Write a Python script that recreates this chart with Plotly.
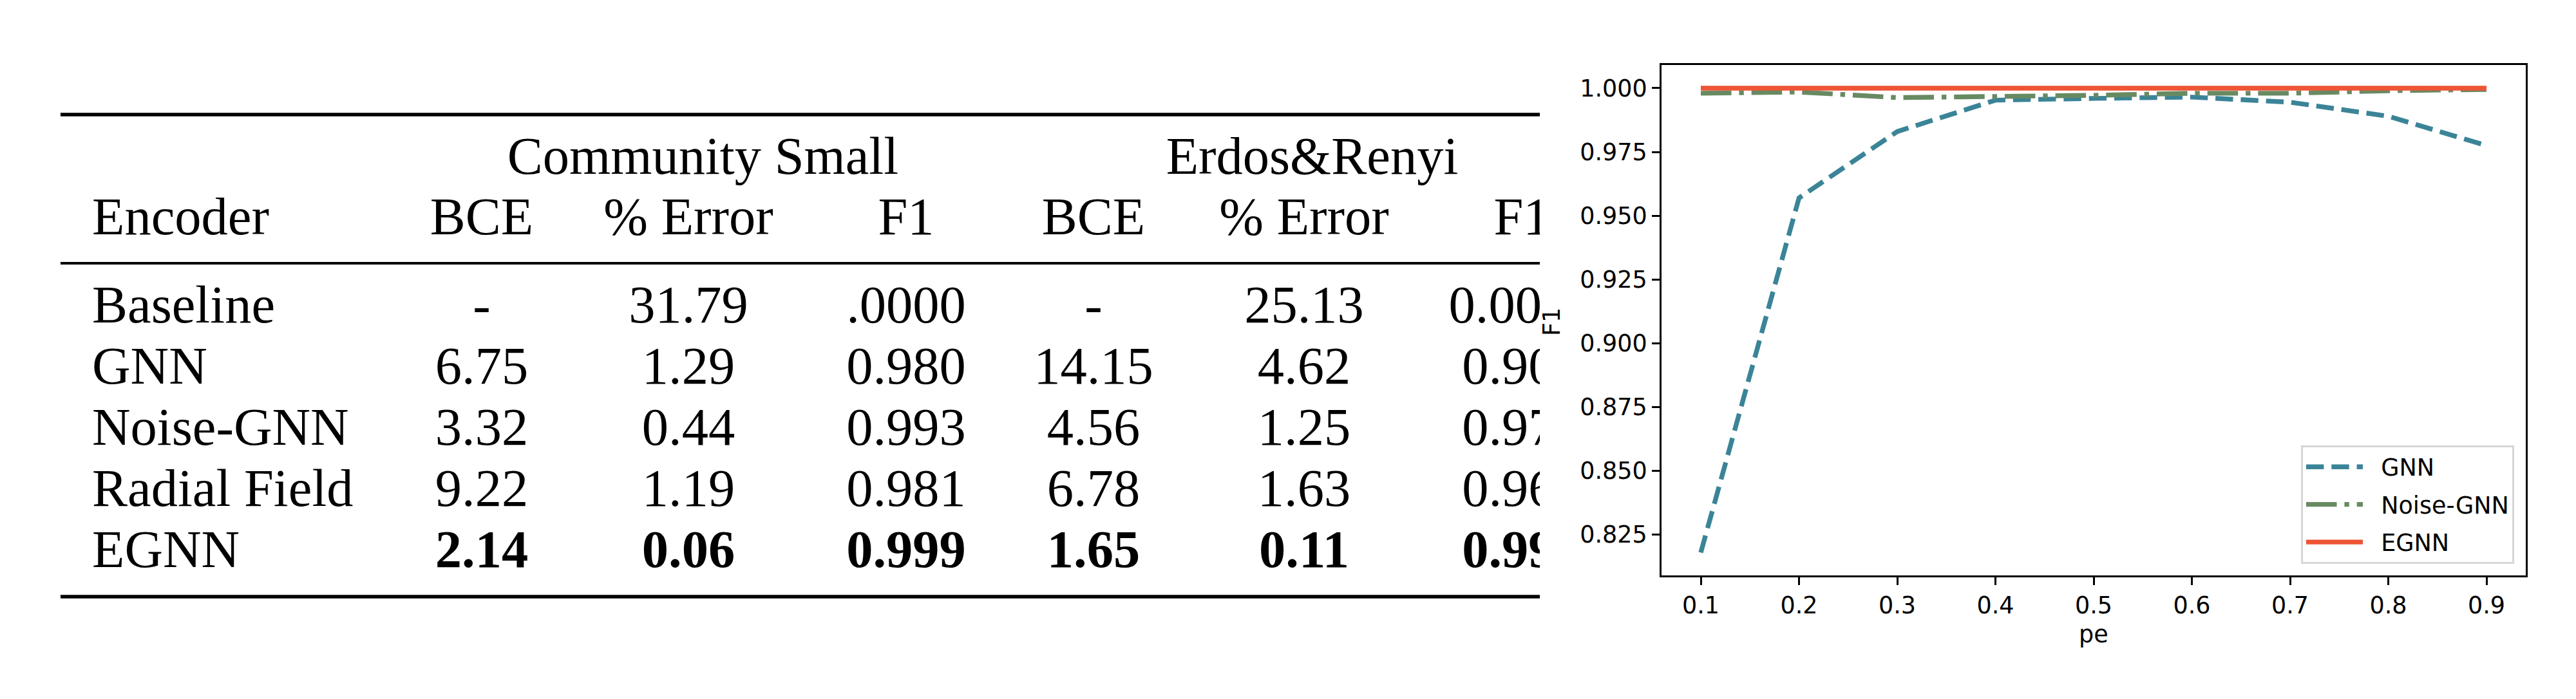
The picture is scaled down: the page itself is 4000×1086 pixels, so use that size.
import plotly.graph_objects as go

W, H = 4000, 1086

# ---------------- table data ----------------
encoders = ["Baseline", "GNN", "Noise-GNN", "Radial Field", "EGNN"]
group_titles = ["Community Small", "Erdos&Renyi"]
col_titles = ["BCE", "% Error", "F1", "BCE", "% Error", "F1"]
cs_bce = ["-", "6.75", "3.32", "9.22", "2.14"]
cs_err = ["31.79", "1.29", "0.44", "1.19", "0.06"]
cs_f1 = [".0000", "0.980", "0.993", "0.981", "0.999"]
er_bce = ["-", "14.15", "4.56", "6.78", "1.65"]
er_err = ["25.13", "4.62", "1.25", "1.63", "0.11"]
er_f1 = ["0.0000", "0.907", "0.975", "0.964", "0.998"]
bold_encoder = "EGNN"

# ---------------- chart data ----------------
pe = [0.1, 0.2, 0.3, 0.4, 0.5, 0.6, 0.7, 0.8, 0.9]
gnn_f1 = [0.818, 0.957, 0.983, 0.9953, 0.996, 0.9965, 0.9945, 0.989, 0.9775]
noise_f1 = [0.998, 0.9985, 0.9963, 0.9967, 0.9972, 0.998, 0.998, 0.999, 0.9995]
egnn_f1 = [1.0, 1.0, 1.0, 1.0, 1.0, 1.0, 1.0, 1.0, 1.0]
series_names = ["GNN", "Noise-GNN", "EGNN"]
x_ticks = [0.1, 0.2, 0.3, 0.4, 0.5, 0.6, 0.7, 0.8, 0.9]
y_ticks = [0.825, 0.850, 0.875, 0.900, 0.925, 0.950, 0.975, 1.000]

# ---------------- layout constants (pixels) ----------------
TFONT = "Liberation Serif"
TSIZE = 82.5
SHIFT = 0.25 * TSIZE          # baseline offset for 'middle' text
CLIP_X = 2383
RULE_X0 = 86
ENC_X = 135
COL_X = [740, 1061, 1399, 1690, 2017, 2355]
GROUP_X = [1083.5, 2029.5]
BASE_GROUP = 262
BASE_HEAD = 356
BASE_ROW0 = 493
ROW_STEP = 95
RULES = [(170, 5.5), (401, 4.2), (919, 5.5)]
LEG_PAD = "\u00a0\u00a0"

fig = go.Figure()

def table_text(xs, bases, texts, pos="middle center"):
    fig.add_trace(go.Scatter(
        x=xs, y=[b - SHIFT for b in bases], text=texts, mode="text",
        textposition=pos, cliponaxis=True, showlegend=False, hoverinfo="skip",
        textfont=dict(family=TFONT, size=TSIZE, color="black"),
        xaxis="x2", yaxis="y2"))

row_bases = [BASE_ROW0 + i * ROW_STEP for i in range(len(encoders))]

# headers
table_text(GROUP_X, [BASE_GROUP] * 2, group_titles)
table_text([ENC_X], [BASE_HEAD], ["Encoder"], pos="middle right")
table_text(COL_X, [BASE_HEAD] * len(COL_X), col_titles)

# body
table_text([ENC_X] * len(encoders), row_bases, encoders, pos="middle right")
for cx, col in zip(COL_X, [cs_bce, cs_err, cs_f1, er_bce, er_err, er_f1]):
    texts = [f"<b>{v}</b>" if enc == bold_encoder else v for enc, v in zip(encoders, col)]
    table_text([cx] * len(col), row_bases, texts)

shapes = []
for ry, lw in RULES:
    shapes.append(dict(type="line", xref="x2", yref="y2", x0=RULE_X0, x1=CLIP_X,
                       y0=ry, y1=ry, line=dict(color="black", width=lw)))

# ---------------- line chart ----------------
LW = 7.4
styles = [
    dict(color="#3b8497", width=LW, dash="27.4px,11.9px"),
    dict(color="#688a62", width=LW, dash="47.5px,11.9px,7.4px,11.9px"),
    dict(color="#ee5435", width=LW),
]
for i, (name, ys, st) in enumerate(zip(series_names, [gnn_f1, noise_f1, egnn_f1], styles)):
    fig.add_trace(go.Scatter(x=pe, y=ys, mode="lines", name=LEG_PAD + name,
                             legendgroup=f"g{i}", line=st))

AX_FONT = dict(family="DejaVu Sans", size=36.5, color="black")
axis_common = dict(showline=True, mirror=True, linecolor="black", linewidth=3,
                   ticks="outside", ticklen=12, tickwidth=3, tickcolor="black",
                   showgrid=False, zeroline=False, tickfont=AX_FONT)

fig.update_layout(
    width=W, height=H,
    margin=dict(l=0, r=0, t=0, b=0),
    paper_bgcolor="white", plot_bgcolor="white",
    xaxis=dict(domain=[2572 / W, 3914 / W], range=[0.06, 0.94], anchor="y",
               tickvals=x_ticks, ticktext=[f"{v:.1f}" for v in x_ticks], **axis_common),
    yaxis=dict(domain=[1 - 886 / H, 1 - 93 / H], range=[0.80903, 1.00908], anchor="x",
               tickvals=y_ticks, ticktext=[f"{v:.3f}" for v in y_ticks], **axis_common),
    xaxis2=dict(domain=[0, CLIP_X / W], range=[0, CLIP_X], visible=False,
                fixedrange=True, anchor="y2"),
    yaxis2=dict(domain=[0, 1], range=[H, 0], visible=False, fixedrange=True,
                anchor="x2"),
    shapes=shapes,
    showlegend=True,
    legend=dict(x=3896 / W, xanchor="right", y=1 - 868 / H, yanchor="bottom",
                bgcolor="rgba(255,255,255,0.8)", bordercolor="#d6d6d6", borderwidth=3,
                font=AX_FONT, itemwidth=88, traceorder="grouped", tracegroupgap=8),
    annotations=[
        dict(text="pe", x=3243 / W, y=1 - 977 / H, xref="paper", yref="paper",
             xanchor="center", yanchor="middle", showarrow=False, font=AX_FONT),
        dict(text="F1", x=2402 / W, y=1 - 492 / H, xref="paper", yref="paper",
             xanchor="center", yanchor="middle", showarrow=False, textangle=-90,
             font=AX_FONT),
    ],
)

fig.write_html("out.html")
